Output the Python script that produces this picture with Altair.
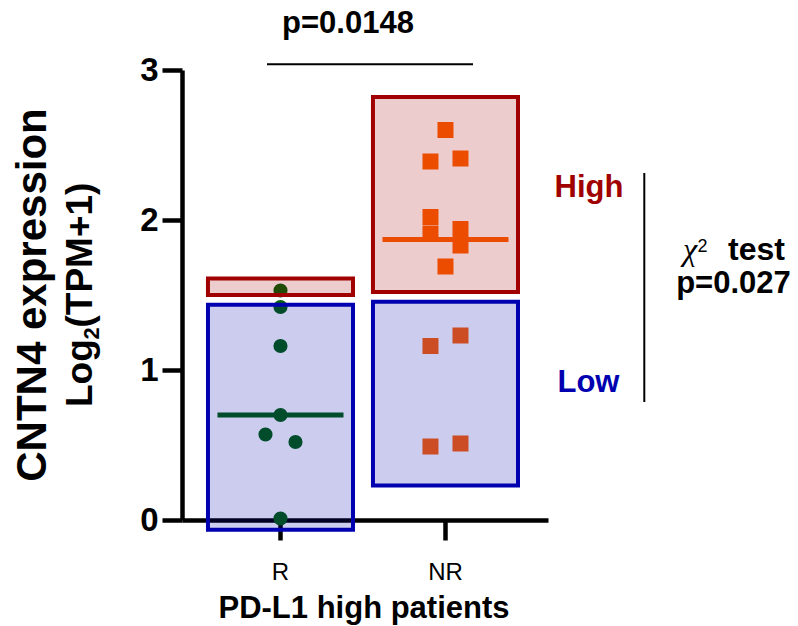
import altair as alt
import pandas as pd

# ---- data ----
r_values = [1.53, 1.42, 1.16, 0.70, 0.57, 0.52, 0.01]
r_cols = [0, 0, 0, 0, -1, 1, 0]
nr_values = [2.60, 2.39, 2.41, 2.02, 1.91, 1.94, 1.83, 1.69, 1.16, 1.23, 0.49, 0.51]
nr_cols = [0, -1, 1, -1, -1, 1, 1, 0, -1, 1, -1, 1]

box_group = ["R", "R", "NR", "NR"]
box_level = ["High", "Low", "High", "Low"]
box_top = [1.61, 1.435, 2.82, 1.455]
box_bottom = [1.50, -0.065, 1.52, 0.23]

groups = ["R", "NR"]
y_ticks = [0, 1, 2, 3]

FONT = "Liberation Sans"
RED = "#A00000"
BLUE = "#0000B0"
GREEN = "#00600A"
ORANGE = "#FF6000"

pts = pd.DataFrame({
    "group": ["R"] * len(r_values) + ["NR"] * len(nr_values),
    "value": r_values + nr_values,
    "col": r_cols + nr_cols,
})
boxes = pd.DataFrame({"group": box_group, "level": box_level,
                      "top": box_top, "bottom": box_bottom})

x_enc = alt.X("group:N", sort=groups,
              scale=alt.Scale(domain=groups, paddingInner=0.121, paddingOuter=0.1696, align=0.464),
              axis=alt.Axis(title=None, labelAngle=0, labelFontSize=24, labelFont=FONT,
                            labelColor="black", labelPadding=20, tickSize=20, tickWidth=4.5,
                            tickColor="black", domainWidth=4.5, domainColor="black"))
y_scale = alt.Scale(domain=[0, 3], nice=False, zero=False)
y_axis = alt.Axis(title=None, values=y_ticks, labelFontSize=33, labelFontWeight="bold",
                  labelFont=FONT, labelColor="black", labelPadding=4, tickSize=20,
                  tickWidth=4.5, tickColor="black", domainWidth=4.5, domainColor="black",
                  grid=False)

base_pts = alt.Chart(pts)
point_layers = []
for grp, mark, size, colr in [("R", "circle", 200, GREEN), ("NR", "square", 256, ORANGE)]:
    for c, off in [(-1, -15), (0, 0), (1, 15)]:
        sel = base_pts.transform_filter(
            (alt.datum.group == grp) & (alt.datum.col == c))
        if mark == "circle":
            m = sel.mark_circle(size=size, opacity=1, color=colr, xOffset=off)
        else:
            m = sel.mark_square(size=size, opacity=1, color=colr, xOffset=off)
        point_layers.append(m.encode(
            x=x_enc, y=alt.Y("value:Q", scale=y_scale, axis=y_axis)))

medians = base_pts.mark_tick(size=126, thickness=5, opacity=1).encode(
    x=x_enc,
    y=alt.Y("median(value):Q", scale=y_scale, axis=y_axis),
    color=alt.Color("group:N", scale=alt.Scale(domain=groups, range=[GREEN, ORANGE]), legend=None),
)

box_layer = alt.Chart(boxes).mark_bar(fillOpacity=0.2, strokeWidth=4, strokeOpacity=1).encode(
    x=x_enc,
    y=alt.Y("top:Q", scale=y_scale, axis=y_axis),
    y2="bottom:Q",
    fill=alt.Fill("level:N", scale=alt.Scale(domain=["High", "Low"], range=[RED, BLUE]), legend=None),
    stroke=alt.Stroke("level:N", scale=alt.Scale(domain=["High", "Low"], range=[RED, BLUE]), legend=None),
)


def label(text, x, y, size, weight="bold", color="black", align="center", angle=0,
          baseline="alphabetic", font=FONT, style="normal"):
    return alt.Chart(pd.DataFrame({"t": [text]})).mark_text(
        align=align, baseline=baseline, fontSize=size, fontWeight=weight, color=color,
        angle=angle, font=font, fontStyle=style).encode(
        text="t:N", x=alt.value(x), y=alt.value(y))


def rule(x1, x2, y1, y2):
    return alt.Chart(pd.DataFrame({"a": [0]})).mark_rule(color="black", strokeWidth=2).encode(
        x=alt.value(x1), x2=alt.value(x2), y=alt.value(y1), y2=alt.value(y2))


annotations = [
    label("CNTN4 expression", -149, 225, 42, angle=270, baseline="middle"),
    label("Log", -101, 337, 37, angle=270, baseline="middle", align="left"),
    label("2", -90, 269.5, 22, angle=270, baseline="middle", align="left"),
    label("(TPM+1)", -101, 257.5, 37, angle=270, baseline="middle", align="left"),
    label("PD-L1 high patients", 182, 548, 31),
    label("p=0.0148", 166, -37, 31),
    rule(85, 291, -5.7, -5.7),
    label("High", 407, 127, 31, color=RED),
    label("Low", 406.5, 322, 31, color=BLUE),
    rule(462.3, 462.3, 103, 332),
    label("χ", 508, 190, 32, weight="normal", font="Liberation Serif", style="italic"),
    label("2", 520.5, 182, 18, weight="normal"),
    label("test", 546, 190, 32, align="left"),
    label("p=0.027", 551.5, 223, 31),
]

chart = alt.layer(*point_layers, medians, box_layer, *annotations).resolve_scale(
    color="independent", fill="independent", stroke="independent"
).properties(
    width=366, height=450,
    autosize=alt.AutoSizeParams(type="none"),
    padding={"left": 182, "top": 70, "right": 250, "bottom": 106},
).configure_view(stroke=None)

chart.save("out.html", embed_options={"renderer": "svg", "actions": False})
